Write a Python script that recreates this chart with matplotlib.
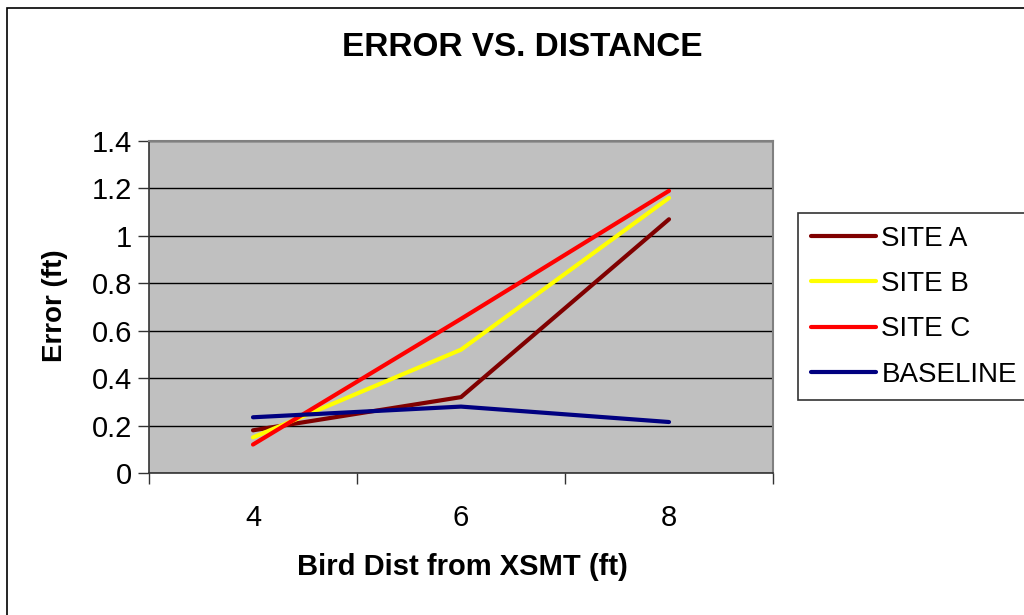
import matplotlib
matplotlib.use('Agg')
import matplotlib.pyplot as plt
from matplotlib.patches import Rectangle

plt.rcParams['font.family'] = ['Liberation Sans', 'DejaVu Sans']

categories = ['4', '6', '8']
site_a = [0.18, 0.32, 1.07]
site_b = [0.15, 0.52, 1.16]
site_c = [0.12, 0.65, 1.19]
baseline = [0.235, 0.28, 0.215]

series = [
    ('SITE A', site_a, '#800000'),
    ('SITE B', site_b, '#ffff00'),
    ('SITE C', site_c, '#ff0000'),
    ('BASELINE', baseline, '#000080'),
]

fig = plt.figure(figsize=(10.24, 6.15), dpi=100)
fig.patch.set_facecolor('white')

# outer chart border (runs off the right/bottom edge)
fig.patches.append(Rectangle((7 / 1024, -0.1), 1.2, 1 - 8 / 615 + 0.1,
                             transform=fig.transFigure, fill=False,
                             edgecolor='black', linewidth=1.2))

ax = fig.add_axes([149 / 1024, 1 - 473 / 615, (773 - 149) / 1024, (473 - 141) / 615])
ax.set_facecolor('#c0c0c0')

x = list(range(len(categories)))
for name, vals, col in series:
    ax.plot(x, vals, color=col, linewidth=3, label=name, solid_capstyle='round')

ax.set_xlim(-0.5, len(categories) - 0.5)
ax.set_ylim(0, 1.4)
ax.set_yticks([0, 0.2, 0.4, 0.6, 0.8, 1, 1.2, 1.4])
ax.set_yticklabels(['0', '0.2', '0.4', '0.6', '0.8', '1', '1.2', '1.4'])
ax.yaxis.grid(True, color='black', linewidth=1)
ax.set_axisbelow(True)

ax.set_xticks([i - 0.5 for i in range(len(categories) + 1)])
ax.set_xticklabels([])
ax.set_xticks(x, minor=True)
ax.set_xticklabels(categories, minor=True)
ax.tick_params(axis='x', which='major', length=8, width=1, color='#333333', direction='out')
ax.tick_params(axis='x', which='minor', length=0, pad=22, labelsize=21)
ax.tick_params(axis='y', length=8, width=1, color='#333333', direction='out', labelsize=21, pad=4)

for s in ['top', 'right']:
    ax.spines[s].set_color('#808080')
    ax.spines[s].set_linewidth(1.5)
for s in ['left', 'bottom']:
    ax.spines[s].set_color('#333333')
    ax.spines[s].set_linewidth(1.2)

fig.text(522 / 1024, 1 - 48 / 615, 'ERROR VS. DISTANCE', ha='center', va='center',
         fontsize=24, fontweight='bold')
fig.text(462 / 1024, 1 - 567 / 615, 'Bird Dist from XSMT (ft)', ha='center', va='center',
         fontsize=21, fontweight='bold')
fig.text(55 / 1024, 1 - 306 / 615, 'Error (ft)', ha='center', va='center',
         rotation=90, fontsize=20, fontweight='bold')

leg = ax.legend(loc='upper left', bbox_to_anchor=(798 / 1024, 1 - 213 / 615),
                bbox_transform=fig.transFigure, fontsize=20, frameon=True,
                fancybox=False, edgecolor='black', handlelength=2.35,
                handletextpad=0.2, labelspacing=0.7, borderpad=0.45,
                borderaxespad=0)
leg.get_frame().set_linewidth(1.2)

fig.savefig('out.png', dpi=100, facecolor='white')
